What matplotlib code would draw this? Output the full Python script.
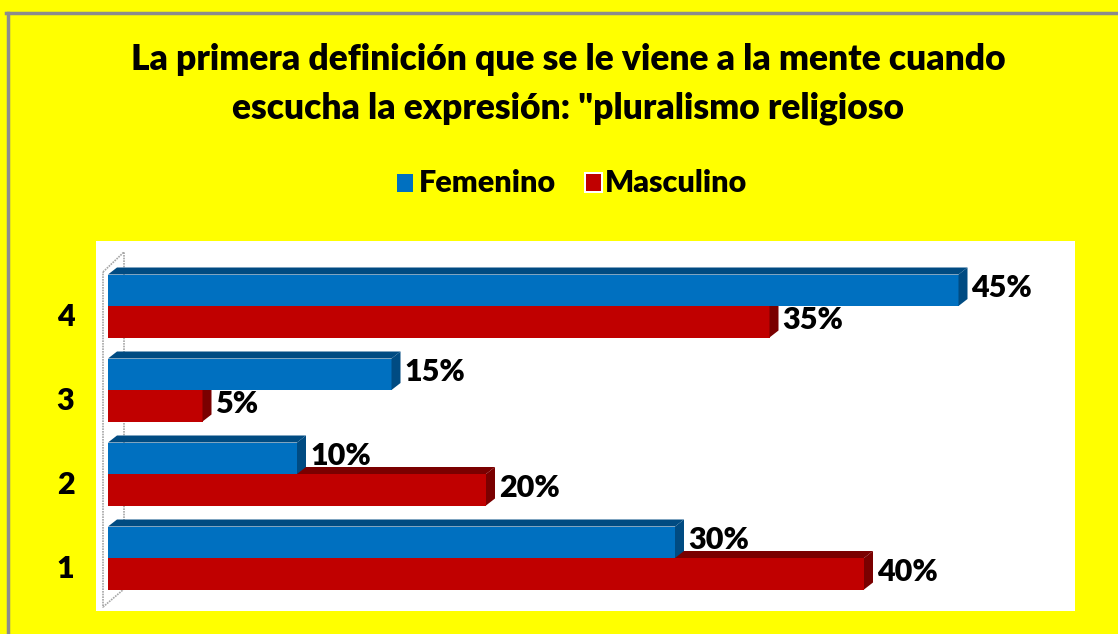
import matplotlib
matplotlib.use("Agg")
import matplotlib.pyplot as plt
import matplotlib.transforms as mtransforms
from matplotlib.patches import Polygon, Rectangle
from matplotlib.lines import Line2D
import numpy as np

# data
categories = [1, 2, 3, 4]
femenino = [30, 10, 15, 45]
masculino = [40, 20, 5, 35]
series_names = ["Femenino", "Masculino"]
title_text = ('La primera definición que se le viene a la mente cuando\n'
              'escucha la expresión: "pluralismo religioso')

W, H = 1118, 634
YELLOW = "#FFFF00"
BLUE, BLUE_DARK = "#0070C0", "#004B82"
RED, RED_DARK = "#C00000", "#7A0000"
FONT = ["Lato", "DejaVu Sans"]
WEIGHT = "heavy"

plt.rcParams["font.family"] = FONT

fig = plt.figure(figsize=(W / 100, H / 100), dpi=100, facecolor=YELLOW)

# gray frame on left and top
fig.add_artist(Line2D([7.5 / W, 7.5 / W], [0, 1 - 12.5 / H], color="#8C8C8C", lw=2.5))
fig.add_artist(Line2D([6 / W, 1], [1 - 12.5 / H, 1 - 12.5 / H], color="#8C8C8C", lw=2.5))

# plot area (white)
left, right, top, bottom = 96, 1075, 241, 611
ax = fig.add_axes([left / W, 1 - bottom / H, (right - left) / W, (bottom - top) / H])
ax.set_facecolor("white")

px_per_unit = 18.9   # x pixels per percent
cat_step = 84.0      # y pixels per category
x0_px = 108          # pixel of 0%
c1_px = 558          # pixel of category 1
ax.set_xlim((left - x0_px) / px_per_unit, (right - x0_px) / px_per_unit)
ax.set_ylim(1 - (bottom - c1_px) / cat_step, 1 + (c1_px - top) / cat_step)

def px2data(px, py):
    return (px - x0_px) / px_per_unit, 1 + (c1_px - py) / cat_step

# back wall outline (3d frame)
wall = [(103, 272), (124, 252), (124, 589), (103, 607), (103, 272)]
wx, wy = zip(*[px2data(*p) for p in wall])
ax.plot(wx, wy, color="#A6A6A6", lw=1.2, ls=(0, (1, 0.6)), zorder=1)

h = 31.5 / cat_step
dx = 9 / px_per_unit
dy = 7 / cat_step
cats = np.array(categories, dtype=float)

def bar3d(ys, vals, face, dark, z):
    ax.barh(ys, vals, height=h, color=face, zorder=z, linewidth=0)
    for y, v in zip(ys, vals):
        t, b = y + h / 2, y - h / 2
        ax.add_patch(Polygon([(0, t), (v, t), (v + dx, t + dy), (dx, t + dy)],
                             closed=True, facecolor=dark, lw=0, zorder=z))
        ax.add_patch(Polygon([(v, b), (v, t), (v + dx, t + dy), (v + dx, b + dy)],
                             closed=True, facecolor=dark, lw=0, zorder=z))

red_y = cats - h / 2
blue_y = cats + h / 2
bar3d(red_y, masculino, RED, RED_DARK, 2)
bar3d(blue_y, femenino, BLUE, BLUE_DARK, 3)

# data labels
lab_off = 13 / px_per_unit
for y, v in zip(blue_y, femenino):
    ax.text(v + lab_off, y + 2 / cat_step, f"{v}%", ha="left", va="center", fontsize=22,
            fontweight=WEIGHT, color="black", zorder=5)
for y, v in zip(red_y, masculino):
    ax.text(v + lab_off, y + 2 / cat_step, f"{v}%", ha="left", va="center", fontsize=22,
            fontweight=WEIGHT, color="black", zorder=5)

# axes styling
for s in ax.spines.values():
    s.set_visible(False)
ax.set_xticks([])
ax.set_yticks(categories)
ax.set_yticklabels([str(c) for c in categories], fontsize=22, fontweight=WEIGHT)
ax.tick_params(axis="y", length=0, pad=22)
shift = mtransforms.ScaledTranslation(0, -9 / 100, fig.dpi_scale_trans)
for lbl in ax.get_yticklabels():
    lbl.set_horizontalalignment("center")
    lbl.set_transform(lbl.get_transform() + shift)

# title
fig.text(568 / W, 1 - 84 / H, title_text, ha="center", va="center", fontsize=25.5,
         fontweight=WEIGHT, linespacing=1.6)

# legend (drawn by hand to match the Excel look)
ly = 1 - 183 / H
fig.add_artist(Rectangle((397 / W, 1 - 192 / H), 16 / W, 18 / H, facecolor=BLUE, lw=0))
fig.text(419 / W, ly, series_names[0], ha="left", va="center", fontsize=22, fontweight=WEIGHT)
fig.add_artist(Rectangle((584 / W, 1 - 193 / H), 19 / W, 21 / H, facecolor="white", lw=0))
fig.add_artist(Rectangle((586 / W, 1 - 191 / H), 15 / W, 17 / H, facecolor=RED, lw=0))
fig.text(605 / W, ly, series_names[1], ha="left", va="center", fontsize=22, fontweight=WEIGHT)

fig.savefig("out.png", dpi=100, facecolor=YELLOW)
